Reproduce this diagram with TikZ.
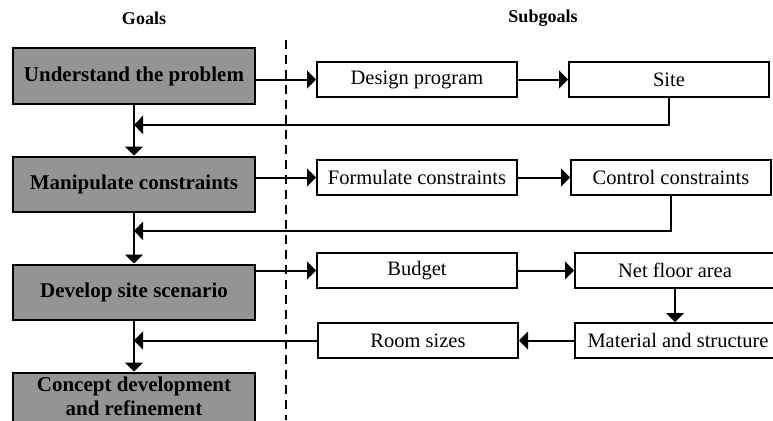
\documentclass[tikz,border=0pt]{standalone}
\usepackage{fontspec}
\setmainfont{Liberation Serif}
\usetikzlibrary{arrows.meta, positioning, calc}

\begin{document}
\begin{tikzpicture}[x=1pt, y=1pt,
    goal/.style={draw, line width=2pt, fill=black!42, minimum width=242pt,
                 minimum height=55pt, align=center,
                 font=\fontsize{21}{24.5}\selectfont\bfseries},
    sub/.style={draw, line width=2pt, fill=white, minimum width=200pt,
                minimum height=35pt, inner sep=2pt,
                font=\fontsize{20.5}{24}\selectfont},
    head/.style={font=\fontsize{18}{20}\selectfont\bfseries},
    arr/.style={-{Triangle[length=9pt, width=18pt]}, line width=2pt},
    divider/.style={line width=2pt, dash pattern=on 9pt off 6pt},
    node distance=51pt
]
\useasboundingbox (0,0) rectangle (773,-420);
\clip (0,0) rectangle (773,-420);

% goals column
\node[goal] (under) at (134,-76) {Understand the problem};
\node[goal, below=of under] (manip) {Manipulate constraints};
\node[goal, below=of manip] (devel) {Develop site scenario};
\node[goal, below=of devel, minimum height=60pt, text depth=13pt] (concept) {Concept development\\and refinement};

\node[head] (goalhd) at (144,-18) {Goals};
\node[head] (subhd) at (543,-18) {Subgoals};

\coordinate (divtop) at (286,-40);
\coordinate (divbot) at (286,-420);
\draw[divider] (divtop) -- (divbot);

% subgoals
\node[sub, right=60pt of under, yshift=-3.5pt] (design) {Design program};
\node[sub, right=50pt of design] (site) {Site};
\node[sub, below=61pt of design] (formul) {Formulate constraints};
\node[sub, right=52pt of formul] (control) {Control constraints};
\node[sub, below=56pt of formul] (budget) {Budget};
\node[sub, right=56pt of budget] (netarea) {Net floor area};
\node[sub, minimum width=206pt, below=33pt of netarea.south west, anchor=north west] (material) {Material and structure};
\node[sub, left=55pt of material] (rooms) {Room sizes};

\coordinate (fb1) at ($(under.south)!0.4!(manip.north)$);
\coordinate (fb2) at ($(manip.south)!0.36!(devel.north)$);

% connectors
\draw[arr] (under) -- (manip);
\draw[arr] (manip) -- (devel);
\draw[arr] (devel) -- (concept);

\draw[arr] (under.east |- design.west) -- (design.west);
\draw[arr] (design) -- (site);
\draw[arr] (site.south) |- (fb1);

\draw[arr] (manip.east |- formul.west) -- (formul.west);
\draw[arr] (formul) -- (control);
\draw[arr] (control.south) |- (fb2);

\draw[arr] (devel.east |- budget.west) -- (budget.west);
\draw[arr] (budget) -- (netarea);
\draw[arr] (netarea.south) -- (netarea.south |- material.north);
\draw[arr] (material) -- (rooms);
\draw[arr] (rooms.west) -- (rooms.west -| devel.south);
\end{tikzpicture}
\end{document}
